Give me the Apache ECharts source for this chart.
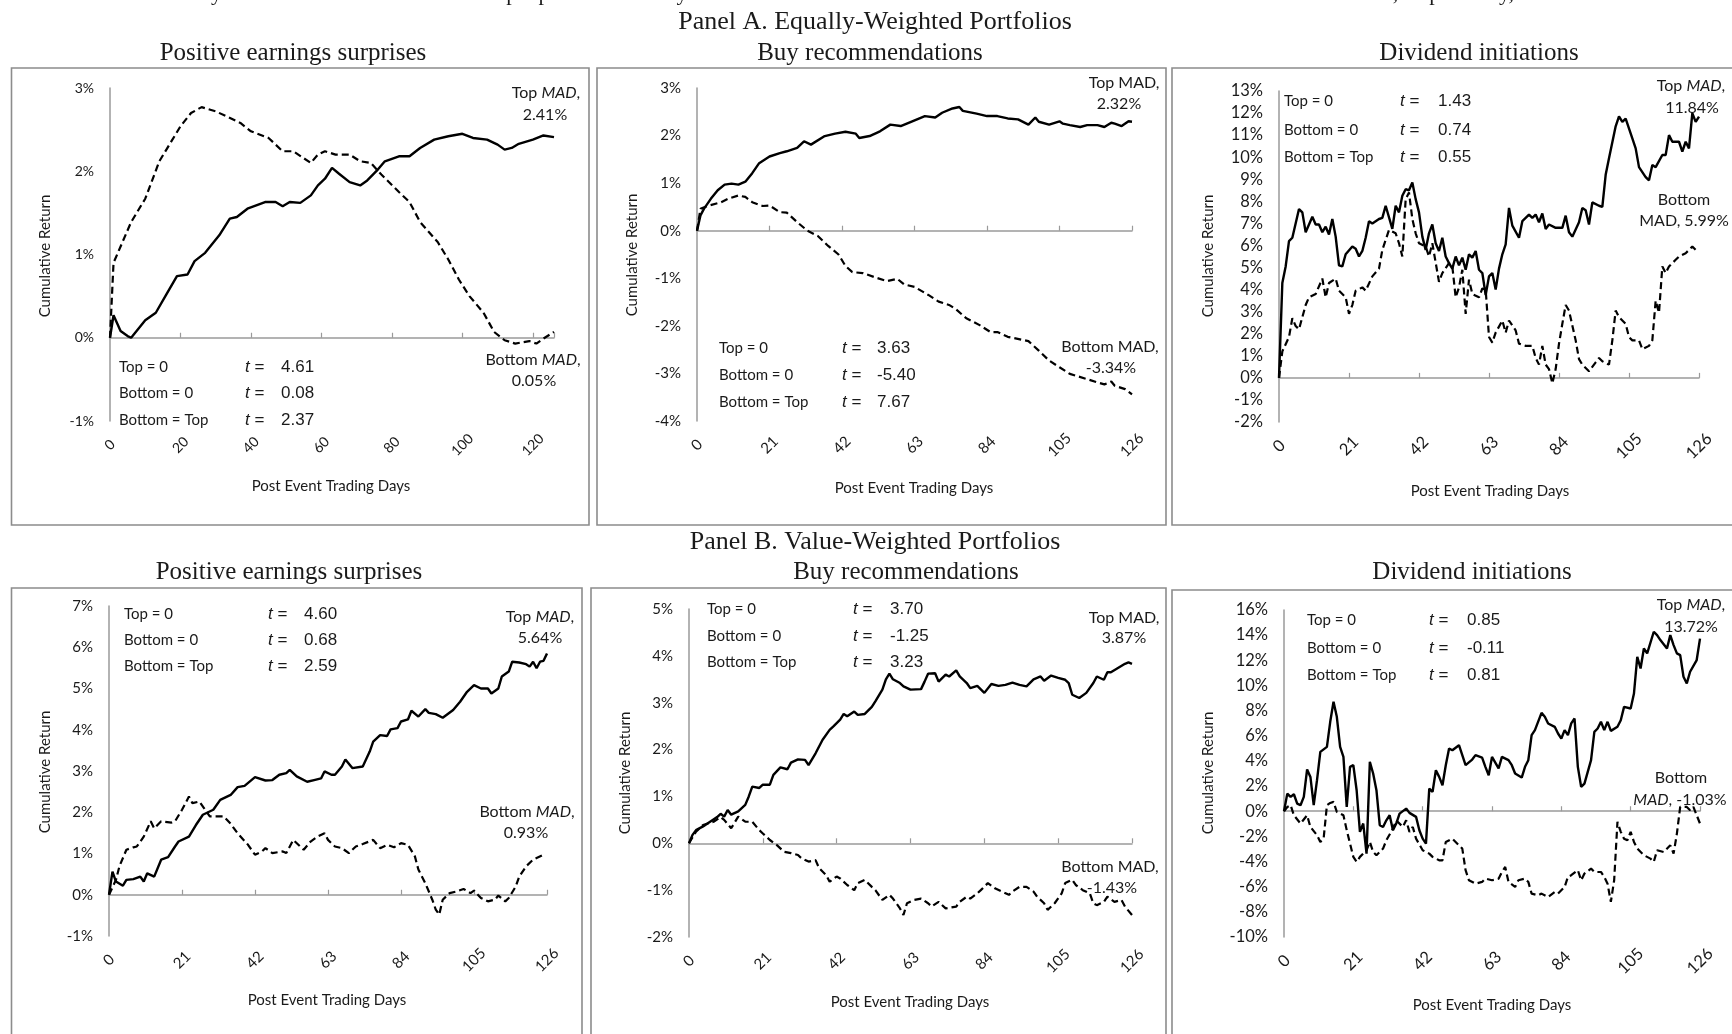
<!DOCTYPE html>
<html>
<head>
<meta charset="utf-8">
<script src="https://cdn.jsdelivr.net/npm/echarts@6/dist/echarts.min.js"></script>
<style>
html,body{margin:0;padding:0;background:#fff;}
#chart{width:1732px;height:1034px;}
</style>
</head>
<body>
<div id="chart"></div>
<script>
// ---------- DATA: [post-event trading day, cumulative return %] ----------
const ewEarnTop = [[0,0],[1,0.27],[3,0.08],[5,0.02],[6,0],[10,0.21],[13,0.3],[16,0.52],[19,0.74],[22,0.76],[24,0.92],[27,1.02],[31,1.23],[34,1.43],[36,1.45],[39,1.55],[44,1.63],[47,1.63],[49,1.58],[51,1.63],[54,1.62],[57,1.71],[59,1.83],[61,1.91],[63,2.04],[65,1.97],[68,1.87],[71,1.83],[73,1.89],[76,2.02],[78,2.12],[82,2.18],[85,2.18],[88,2.28],[92,2.38],[96,2.42],[100,2.45],[103,2.40],[107,2.38],[110,2.32],[112,2.26],[114,2.28],[116,2.33],[120,2.38],[123,2.43],[126,2.41]];
const ewEarnBot = [[0,0],[1,0.9],[6,1.39],[10,1.67],[14,2.12],[20,2.54],[23,2.7],[26,2.77],[30,2.72],[33,2.66],[37,2.58],[40,2.48],[45,2.4],[49,2.24],[52,2.24],[57,2.1],[59,2.2],[61,2.24],[64,2.2],[68,2.2],[71,2.12],[74,2.1],[77,1.96],[82,1.75],[85,1.63],[88,1.39],[93,1.15],[96,0.94],[99,0.7],[102,0.5],[106,0.3],[109,0.07],[112,-0.03],[115,-0.07],[119,-0.04],[121,-0.07],[123,-0.01],[126,0.07]];

const ewBuyTop = [[0,0],[1,0.32],[2,0.46],[4,0.67],[6,0.85],[8,0.97],[10,0.99],[12,0.97],[14,1.03],[16,1.21],[18,1.42],[21,1.56],[24,1.63],[26,1.67],[29,1.74],[31,1.88],[33,1.81],[37,1.99],[40,2.04],[43,2.08],[46,2.04],[47,1.95],[50,1.99],[53,2.09],[56,2.23],[59,2.2],[62,2.29],[66,2.41],[69,2.38],[71,2.48],[74,2.57],[76,2.6],[77,2.52],[81,2.46],[84,2.41],[87,2.41],[90,2.36],[93,2.34],[96,2.23],[98,2.38],[99,2.29],[102,2.23],[105,2.3],[106,2.25],[108,2.22],[111,2.18],[113,2.22],[116,2.22],[118,2.18],[120,2.27],[121,2.25],[123,2.2],[125,2.3],[126,2.29]];
const ewBuyBot = [[0,0],[1,0.46],[3,0.52],[7,0.6],[9,0.67],[12,0.74],[14,0.71],[16,0.6],[19,0.52],[21,0.53],[24,0.39],[26,0.38],[29,0.18],[32,0],[35,-0.11],[38,-0.32],[41,-0.5],[43,-0.74],[45,-0.87],[48,-0.89],[52,-0.99],[55,-1.06],[58,-1.01],[60,-1.13],[63,-1.18],[67,-1.35],[70,-1.49],[73,-1.56],[75,-1.65],[78,-1.84],[82,-1.99],[85,-2.13],[87,-2.13],[90,-2.23],[96,-2.32],[99,-2.52],[102,-2.73],[105,-2.87],[108,-3.01],[113,-3.12],[116,-3.19],[118,-3.23],[120,-3.17],[121,-3.26],[124,-3.33],[126,-3.44]];

const ewDivTop = [[0,0],[1,4.3],[2,5.05],[3,6.2],[4,6.35],[6,7.65],[7,7.5],[8,6.6],[10,7.3],[11,6.95],[12,6.95],[13,6.6],[14,6.85],[15,6.5],[16,7.2],[17,6.4],[18,5.1],[19,5.05],[20,5.6],[22,5.95],[23,5.85],[24,5.5],[25,5.75],[26,6.35],[27,7.1],[28,7.0],[30,7.2],[31,7.25],[32,7.8],[34,6.75],[35,7.8],[36,7.5],[37,8.25],[38,8.55],[39,8.5],[40,8.85],[41,8.1],[42,7.5],[43,6.4],[44,5.8],[45,6.55],[46,6.95],[47,6.1],[48,5.75],[49,6.35],[50,5.5],[51,5.2],[52,4.95],[53,5.5],[54,5.1],[55,5.45],[56,4.9],[57,5.6],[58,5.45],[59,5.75],[60,4.9],[61,4.75],[62,3.75],[63,4.6],[64,4.75],[65,4.0],[66,4.95],[67,5.6],[68,6.05],[69,7.7],[70,6.9],[72,6.35],[73,7.1],[75,7.4],[76,7.25],[77,7.4],[78,7.05],[79,7.45],[80,6.75],[81,6.95],[83,6.8],[85,6.8],[86,7.35],[87,6.6],[88,6.4],[90,7.05],[91,7.7],[92,7.6],[93,6.95],[94,7.95],[96,7.8],[97,7.75],[98,9.2],[99,9.95],[101,11.4],[102,11.85],[103,11.6],[104,11.75],[106,10.85],[107,10.4],[108,9.55],[110,9.1],[111,8.95],[112,9.65],[113,9.55],[115,10.1],[116,10.1],[117,11.0],[118,10.7],[120,10.7],[121,10.25],[122,10.7],[123,10.4],[124,12.0],[125,11.6],[126,11.84]];
const ewDivBot = [[0,0],[1,1.2],[3,1.85],[4,2.7],[5,2.35],[6,2.2],[8,3.3],[9,3.65],[11,3.8],[13,4.5],[14,3.65],[15,4.3],[17,4.5],[18,3.95],[20,3.65],[21,2.9],[22,3.3],[23,3.95],[25,4.1],[26,3.95],[28,4.6],[30,4.95],[31,5.8],[33,6.7],[35,6.55],[36,6.1],[37,5.5],[38,8.1],[39,8.4],[40,7.2],[41,6.55],[42,6.1],[44,5.95],[45,5.5],[46,6.1],[48,4.35],[49,4.75],[51,5.2],[52,5.05],[53,3.65],[54,4.1],[55,4.9],[56,2.9],[57,4.45],[58,3.8],[60,3.65],[61,4.05],[62,4.0],[63,1.85],[64,1.6],[65,2.05],[67,2.6],[68,2.05],[69,2.6],[71,2.15],[72,1.55],[74,1.45],[76,1.45],[77,0.9],[78,0.6],[79,1.45],[80,0.6],[81,0.4],[82,-0.25],[83,0.4],[84,1.55],[85,2.45],[86,3.3],[87,3.05],[89,1.7],[90,0.85],[91,0.6],[93,0.3],[95,0.7],[96,0.9],[97,0.75],[99,0.6],[100,1.7],[101,3.05],[102,2.75],[104,2.45],[105,1.85],[106,1.7],[108,1.7],[109,1.3],[111,1.45],[112,1.7],[113,3.5],[114,2.95],[115,5.05],[116,4.75],[117,5.05],[119,5.35],[120,5.5],[122,5.65],[124,5.95],[125,5.8]];

const vwEarnTop = [[0,0],[1,0.56],[2,0.32],[4,0.22],[5,0.36],[7,0.38],[9,0.44],[10,0.32],[11,0.52],[13,0.44],[15,0.85],[17,0.91],[19,1.17],[20,1.29],[23,1.41],[25,1.69],[27,1.94],[30,2.06],[32,2.3],[35,2.42],[37,2.61],[39,2.64],[42,2.85],[45,2.77],[47,2.78],[49,2.91],[51,2.95],[52,3.03],[54,2.87],[57,2.74],[59,2.78],[61,2.82],[62,2.99],[64,2.91],[65,2.91],[67,3.11],[68,3.28],[70,3.07],[73,3.11],[75,3.47],[76,3.71],[78,3.87],[80,3.85],[81,4.01],[83,4.04],[84,4.2],[86,4.25],[87,4.46],[89,4.32],[91,4.5],[92,4.41],[94,4.38],[96,4.29],[99,4.48],[101,4.68],[103,4.92],[105,5.08],[107,5.0],[109,5.0],[110,4.88],[112,5.0],[113,5.29],[115,5.41],[116,5.65],[118,5.63],[120,5.59],[121,5.53],[122,5.65],[123,5.49],[124,5.65],[125,5.67],[126,5.85]];
const vwEarnBot = [[0,0],[2,0.36],[3,0.69],[5,1.09],[7,1.15],[8,1.17],[10,1.41],[12,1.78],[13,1.61],[15,1.78],[18,1.75],[19,1.78],[21,2.06],[23,2.38],[24,2.22],[26,2.26],[28,2.02],[29,1.9],[31,1.9],[33,1.9],[35,1.72],[37,1.49],[40,1.21],[42,0.97],[44,1.05],[45,1.13],[47,1.01],[50,1.05],[51,1.01],[53,1.33],[56,1.09],[58,1.29],[60,1.41],[62,1.49],[63,1.33],[65,1.17],[67,1.13],[69,1.01],[71,1.17],[73,1.23],[76,1.33],[78,1.13],[80,1.21],[82,1.15],[84,1.25],[86,1.21],[88,0.93],[89,0.61],[91,0.28],[93,-0.12],[94,-0.36],[95,-0.48],[96,-0.12],[98,0.04],[100,0.08],[102,0.14],[104,0.04],[105,0.1],[107,-0.08],[109,-0.16],[111,-0.12],[112,-0.02],[114,-0.16],[115,-0.08],[117,0.2],[118,0.44],[120,0.69],[122,0.85],[123,0.89],[125,0.97]];

const vwBuyTop = [[0,0],[1,0.18],[2,0.28],[4,0.36],[6,0.46],[8,0.56],[9,0.63],[10,0.57],[11,0.71],[12,0.61],[14,0.68],[16,0.82],[17,1.0],[18,1.21],[20,1.18],[21,1.25],[23,1.25],[24,1.46],[26,1.62],[28,1.58],[29,1.72],[31,1.79],[33,1.78],[34,1.67],[36,1.92],[38,2.21],[40,2.42],[41,2.49],[43,2.64],[44,2.76],[45,2.71],[47,2.81],[48,2.74],[50,2.76],[52,2.91],[53,3.03],[55,3.28],[56,3.5],[57,3.62],[58,3.5],[60,3.42],[61,3.35],[63,3.28],[66,3.29],[67,3.45],[68,3.62],[70,3.63],[71,3.45],[73,3.6],[74,3.56],[76,3.69],[77,3.56],[79,3.42],[80,3.31],[82,3.36],[84,3.21],[86,3.4],[88,3.36],[90,3.38],[92,3.43],[94,3.38],[96,3.35],[98,3.5],[100,3.56],[101,3.47],[103,3.58],[105,3.53],[107,3.49],[108,3.42],[109,3.17],[111,3.1],[113,3.21],[115,3.42],[116,3.56],[118,3.49],[119,3.65],[120,3.65],[122,3.74],[124,3.83],[125,3.86],[126,3.83]];
const vwBuyBot = [[0,0],[2,0.25],[4,0.39],[7,0.46],[9,0.56],[10,0.5],[12,0.32],[14,0.57],[16,0.46],[18,0.46],[20,0.28],[21,0.21],[23,0.07],[25,-0.04],[27,-0.18],[29,-0.21],[31,-0.25],[32,-0.32],[34,-0.39],[36,-0.36],[37,-0.53],[39,-0.68],[40,-0.82],[42,-0.71],[43,-0.75],[45,-0.89],[47,-1.0],[48,-0.85],[50,-0.78],[52,-0.93],[53,-1.0],[55,-1.21],[57,-1.1],[58,-1.18],[60,-1.39],[61,-1.53],[62,-1.28],[64,-1.21],[66,-1.18],[68,-1.28],[69,-1.35],[71,-1.25],[73,-1.39],[76,-1.35],[77,-1.25],[79,-1.14],[80,-1.18],[82,-1.07],[83,-1.0],[85,-0.85],[87,-0.96],[89,-1.03],[91,-1.1],[92,-1.03],[94,-0.93],[96,-0.93],[98,-1.03],[99,-1.14],[101,-1.28],[102,-1.42],[104,-1.28],[106,-1.07],[107,-0.85],[109,-0.78],[110,-0.89],[112,-1.0],[114,-1.07],[115,-1.28],[116,-1.32],[118,-1.25],[119,-1.14],[121,-1.25],[123,-1.21],[124,-1.35],[126,-1.53]];

const vwDivTop = [[0,0],[1,1.4],[2,1.14],[3,1.35],[4,0.61],[5,0.48],[6,1.14],[7,3.32],[8,2.73],[9,0.48],[10,2.47],[11,4.72],[13,5.12],[14,7.11],[15,8.7],[16,7.51],[17,5.12],[18,4.32],[19,0.34],[20,3.53],[21,3.66],[22,1.67],[23,-1.64],[24,-0.98],[25,-3.37],[26,3.93],[27,3.0],[28,1.67],[29,-1.11],[30,-1.25],[31,-0.72],[32,-0.32],[33,-1.51],[34,-0.98],[35,-0.19],[37,0.21],[38,-0.13],[40,-0.45],[41,-1.51],[42,-2.18],[43,-2.57],[44,1.8],[45,1.54],[46,3.26],[47,2.73],[48,2.07],[49,3.66],[50,4.99],[51,4.85],[53,5.25],[54,4.46],[55,3.66],[57,4.11],[58,4.46],[60,4.27],[61,3.53],[62,2.86],[63,4.32],[65,3.4],[66,4.32],[68,4.06],[69,3.66],[70,3.0],[72,2.68],[73,3.53],[74,4.06],[75,6.05],[76,6.45],[78,7.82],[79,7.51],[80,6.98],[82,6.71],[83,6.18],[84,5.78],[85,6.45],[86,6.05],[87,6.98],[88,7.37],[89,3.53],[90,1.94],[91,2.2],[93,4.06],[94,6.31],[95,6.58],[96,7.11],[97,6.45],[98,7.11],[99,6.39],[101,6.71],[102,7.24],[103,8.3],[105,8.17],[106,9.36],[107,12.28],[108,11.35],[109,12.94],[110,12.55],[112,14.27],[113,14.0],[114,13.61],[116,12.94],[117,14.0],[118,13.21],[119,12.55],[120,12.41],[121,10.69],[122,10.16],[123,11.09],[125,12.02],[126,13.72]];
const vwDivBot = [[0,0],[1,0.34],[2,0.48],[3,-0.32],[5,-0.98],[7,-0.32],[8,-1.25],[10,-1.91],[11,-2.44],[12,-2.18],[13,0.48],[14,0.66],[15,0.74],[16,-0.05],[18,-0.32],[19,-1.51],[20,-2.57],[21,-3.63],[22,-4.03],[23,-3.63],[25,-3.1],[26,-2.44],[27,-3.24],[28,-3.5],[30,-2.97],[31,-2.31],[33,-1.38],[34,-0.72],[36,-1.25],[37,-0.72],[38,-1.64],[39,-1.25],[40,-2.18],[42,-3.1],[44,-3.37],[45,-3.63],[47,-3.9],[48,-3.9],[49,-2.44],[51,-2.18],[53,-2.71],[54,-2.97],[55,-4.69],[56,-5.49],[58,-5.76],[60,-5.62],[61,-5.36],[63,-5.49],[65,-5.36],[66,-4.83],[67,-4.43],[68,-5.62],[70,-6.02],[71,-5.49],[73,-5.36],[74,-5.62],[75,-6.55],[77,-6.68],[78,-6.55],[80,-6.82],[82,-6.42],[83,-6.55],[85,-6.02],[86,-5.22],[87,-5.09],[89,-4.69],[90,-5.49],[91,-4.96],[93,-4.56],[94,-4.83],[96,-4.83],[97,-5.22],[98,-5.76],[99,-7.21],[100,-5.49],[101,-0.85],[102,-1.64],[103,-2.18],[104,-2.31],[105,-1.64],[106,-2.44],[107,-2.97],[109,-3.5],[111,-3.77],[112,-4.03],[113,-3.1],[115,-3.24],[117,-2.71],[118,-3.37],[119,-1.78],[120,0.34],[122,0.34],[123,0.08],[124,0.34],[125,-0.32],[126,-0.98]];

// t-statistics and MAD end values
const tStatLabels = ['Top = 0', 'Bottom = 0', 'Bottom = Top'];
const ewEarnT = ['4.61', '0.08', '2.37'];
const ewBuyT  = ['3.63', '-5.40', '7.67'];
const ewDivT  = ['1.43', '0.74', '0.55'];
const vwEarnT = ['4.60', '0.68', '2.59'];
const vwBuyT  = ['3.70', '-1.25', '3.23'];
const vwDivT  = ['0.85', '-0.11', '0.81'];
const madTop = ['2.41%', '2.32%', '11.84%', '5.64%', '3.87%', '13.72%'];
const madBot = ['0.05%', '-3.34%', '5.99%', '0.93%', '-1.43%', '-1.03%'];
const panelTitles = ['Positive earnings surprises', 'Buy recommendations', 'Dividend initiations',
                     'Positive earnings surprises', 'Buy recommendations', 'Dividend initiations'];
// y-axis ranges [min, max, interval]
const yRanges = [[-1,3,1],[-4,3,1],[-2,13,1],[-1,7,1],[-2,5,1],[-10,16,2]];
const xIntervals = [20,21,21,21,21,21];

// ---------- LAYOUT ----------
const SANS = 'Lato, "Open Sans", sans-serif';
const ARIAL = '"Liberation Sans", Arial, sans-serif';
const SERIF = '"Liberation Serif", "Times New Roman", serif';
const panels = [
  {top: ewEarnTop, bot: ewEarnBot, t: ewEarnT, grid: {left:110, top:88, width:444, height:333}, fs:14,
   stats: {lx:119, tx:245, vx:281, y:[367,393,420]}, italic:true,
   madTopPos:[546,93,545,115], madBotPos:[533,360,534,381], twoLineBottom:false,
   xTitle:[331,486], yTitle:[45,256]},
  {top: ewBuyTop, bot: ewBuyBot, t: ewBuyT, grid: {left:697, top:88, width:435, height:333}, fs:15,
   stats: {lx:719, tx:842, vx:877, y:[348,375,402]}, italic:false,
   madTopPos:[1124,83,1119,104], madBotPos:[1110,347,1111,368], twoLineBottom:false,
   xTitle:[914,488], yTitle:[632,255]},
  {top: ewDivTop, bot: ewDivBot, t: ewDivT, grid: {left:1279, top:91, width:420, height:331}, fs:16.5,
   stats: {lx:1284, tx:1400, vx:1438, y:[101,130,157]}, italic:true,
   madTopPos:[1691,86,1692,108], madBotPos:[1684,200,1684,221], twoLineBottom:true, botItalic:false,
   xTitle:[1490,491], yTitle:[1208,256]},
  {top: vwEarnTop, bot: vwEarnBot, t: vwEarnT, grid: {left:109, top:606, width:438, height:330}, fs:15,
   stats: {lx:124, tx:268, vx:304, y:[614,640,666]}, italic:true,
   madTopPos:[540,617,540,638], madBotPos:[527,812,526,833], twoLineBottom:false,
   xTitle:[327,1000], yTitle:[45,772]},
  {top: vwBuyTop, bot: vwBuyBot, t: vwBuyT, grid: {left:689, top:609, width:443, height:328}, fs:15,
   stats: {lx:707, tx:853, vx:890, y:[609,636,662]}, italic:false,
   madTopPos:[1124,618,1124,638], madBotPos:[1110,867,1112,888], twoLineBottom:false,
   xTitle:[910,1002], yTitle:[625,773]},
  {top: vwDivTop, bot: vwDivBot, t: vwDivT, grid: {left:1284, top:610, width:416, height:327}, fs:16.5,
   stats: {lx:1307, tx:1429, vx:1467, y:[620,648,675]}, italic:true,
   madTopPos:[1691,605,1691,627], madBotPos:[1681,778,1680,800], twoLineBottom:true, botItalic:true,
   xTitle:[1492,1005], yTitle:[1208,773]}
];
const titlePos = [[293,53],[870,53],[1479,53],[289,572],[906,572],[1472,572]];
const boxes = [[11.5,68,577.5,457],[597,68,569,457],[1172,68,600,457],
               [11.5,588,570.5,460],[591,588,575,460],[1172,590,600,460]];

const TXT = '#1a1a1a';
function txt(x, y, text, o) {
  o = o || {};
  return {type:'text', x:x, y:y, rotation:o.rotation||0, z:100,
    style:{text:text, fill:o.fill||TXT, fontSize:o.fontSize||15, fontFamily:o.fontFamily||SANS,
      fontStyle:o.fontStyle||'normal', align:o.align||'center', verticalAlign:o.verticalAlign||'middle',
      rich:o.rich}};
}

const grids = [], xAxes = [], yAxes = [], series = [], graphic = [];

graphic.push(txt(1668, 5, 'uary 1984 to October 2013. The sample periods for analyst recommendations and dividend initiations are from November 1993 and 2001, respectively, to October 2013.',
  {fontFamily:SERIF, fontSize:22, align:'right', verticalAlign:'bottom'}));
graphic.push(txt(875, 22, 'Panel A. Equally-Weighted Portfolios', {fontFamily:SERIF, fontSize:26}));
graphic.push(txt(875, 542, 'Panel B. Value-Weighted Portfolios', {fontFamily:SERIF, fontSize:26}));

boxes.forEach(b => graphic.push({type:'rect', z:0, shape:{x:b[0], y:b[1], width:b[2], height:b[3]},
  style:{fill:'none', stroke:'#8c8c8c', lineWidth:1.6}}));

panels.forEach((p, i) => {
  grids.push(Object.assign({outerBoundsMode:'none', containLabel:false}, p.grid));
  const yr = yRanges[i], xi = xIntervals[i];
  xAxes.push({gridIndex:i, type:'value', min:0, max:126, interval:xi, position:'bottom',
    axisLine:{show:true, onZero:true, lineStyle:{color:'#9a9a9a', width:1.5}},
    axisTick:{show:true, inside:true, length:5, lineStyle:{color:'#9a9a9a', width:1.2}},
    axisLabel:{show:false}, splitLine:{show:false}});
  xAxes.push({gridIndex:i, type:'value', min:0, max:126, interval:xi, position:'bottom',
    axisLine:{show:false, onZero:false}, axisTick:{show:false}, splitLine:{show:false},
    axisLabel:{show:true, rotate:45, align:'center', verticalAlign:'middle', margin:24,
      fontSize:p.fs, fontFamily:SANS, color:TXT, showMaxLabel: xi === 21,
      formatter: v => (v % xi === 0 ? String(v) : '')}});
  yAxes.push({gridIndex:i, type:'value', min:yr[0], max:yr[1], interval:yr[2], position:'left',
    axisLine:{show:true, onZero:false, lineStyle:{color:'#9a9a9a', width:1.5}},
    axisTick:{show:false}, splitLine:{show:false},
    axisLabel:{show:true, margin:16, fontSize:p.fs, fontFamily:SANS, color:TXT, formatter: v => v + '%'}});
  series.push({type:'line', xAxisIndex:2*i, yAxisIndex:i, data:p.top, showSymbol:false, symbol:'none',
    lineStyle:{color:'#000', width:2.4, type:'solid'}, animation:false, z:5});
  series.push({type:'line', xAxisIndex:2*i, yAxisIndex:i, data:p.bot, showSymbol:false, symbol:'none',
    lineStyle:{color:'#000', width:2.2, type:[7,4]}, animation:false, z:5});

  // titles
  graphic.push(txt(titlePos[i][0], titlePos[i][1], panelTitles[i], {fontFamily:SERIF, fontSize:25}));
  graphic.push(txt(p.xTitle[0], p.xTitle[1], 'Post Event Trading Days', {fontSize:15}));
  graphic.push(txt(p.yTitle[0], p.yTitle[1], 'Cumulative Return', {fontSize:15, rotation:Math.PI/2}));

  // t-stat block
  tStatLabels.forEach((lab, k) => {
    const y = p.stats.y[k];
    graphic.push(txt(p.stats.lx, y, lab, {fontSize:15, align:'left'}));
    graphic.push(txt(p.stats.tx, y, '{i|t} =', {fontSize:17, fontFamily:ARIAL, align:'left',
      rich:{i:{fontStyle:'italic', fontSize:17, fontFamily:ARIAL, fill:TXT}}}));
    graphic.push(txt(p.stats.vx, y, p.t[k], {fontSize:17, fontFamily:ARIAL, align:'left'}));
  });

  // MAD annotations
  const rich = {i:{fontStyle:'italic', fontSize:16, fontFamily:SANS, fill:TXT}};
  const mad = p.italic ? '{i|MAD}' : 'MAD';
  graphic.push(txt(p.madTopPos[0], p.madTopPos[1], 'Top ' + mad + ',', {fontSize:16, rich:rich}));
  graphic.push(txt(p.madTopPos[2], p.madTopPos[3], madTop[i], {fontSize:16}));
  if (p.twoLineBottom) {
    graphic.push(txt(p.madBotPos[0], p.madBotPos[1], 'Bottom', {fontSize:16}));
    graphic.push(txt(p.madBotPos[2], p.madBotPos[3], (p.botItalic ? '{i|MAD}' : 'MAD') + ', ' + madBot[i], {fontSize:16, rich:rich}));
  } else {
    graphic.push(txt(p.madBotPos[0], p.madBotPos[1], 'Bottom ' + mad + ',', {fontSize:16, rich:rich}));
    graphic.push(txt(p.madBotPos[2], p.madBotPos[3], madBot[i], {fontSize:16}));
  }
});

const chart = echarts.init(document.getElementById('chart'), null, {renderer:'canvas'});
chart.setOption({
  backgroundColor:'#ffffff',
  animation:false,
  grid:grids, xAxis:xAxes, yAxis:yAxes, series:series, graphic:graphic
});
</script>
</body>
</html>
